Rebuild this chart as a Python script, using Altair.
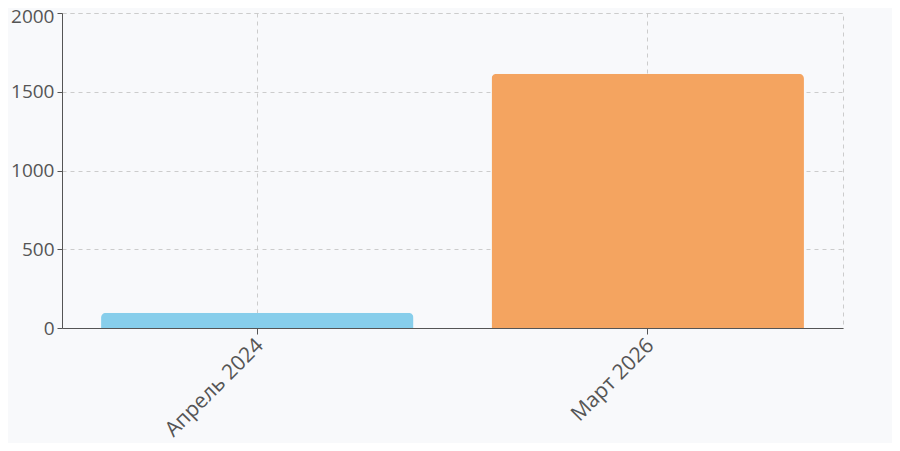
import altair as alt
import pandas as pd

categories = ["Апрель 2024", "Март 2026"]
values = [97, 1615]
colors = ["#87CEEB", "#F4A460"]

df = pd.DataFrame({"period": categories, "value": values, "color": colors})

FONT = "Open Sans"

chart = alt.Chart(df).mark_bar(cornerRadiusEnd=5).encode(
    x=alt.X("period:N", sort=categories, title=None,
            scale=alt.Scale(paddingInner=0.2, paddingOuter=0.1),
            axis=alt.Axis(labelAngle=-45, labelAlign="right", labelBaseline="middle",
                          labelFontSize=21, labelColor="#555555", labelFont=FONT,
                          labelOffset=3,
                          grid=True, gridDash=[4, 4], gridColor="#cccccc",
                          bandPosition=0.5, tickBand="center",
                          domainColor="#555555", tickColor="#555555", tickSize=6,
                          labelPadding=8)),
    y=alt.Y("value:Q", title=None,
            scale=alt.Scale(domain=[0, 2000]),
            axis=alt.Axis(values=[0, 500, 1000, 1500, 2000], format="d",
                          labelFontSize=19,
                          labelColor="#555555", labelFont=FONT,
                          labelOffset=alt.ExprRef("datum.value == 2000 ? 3 : 0"),
                          gridDash=[4, 4], gridColor="#cccccc",
                          domainColor="#555555", tickColor="#555555", tickSize=5,
                          labelPadding=3)),
    color=alt.Color("color:N", scale=None, legend=None),
).properties(
    width=781, height=315,
    background="#f8f9fb",
    autosize=alt.AutoSizeParams(type="none"),
    padding={"left": 54, "top": 5, "right": 49, "bottom": 115},
).configure_view(
    stroke="#cccccc", strokeDash=[4, 4], strokeWidth=1
)

chart.save("out.html", embed_options={"renderer": "svg", "actions": False})
